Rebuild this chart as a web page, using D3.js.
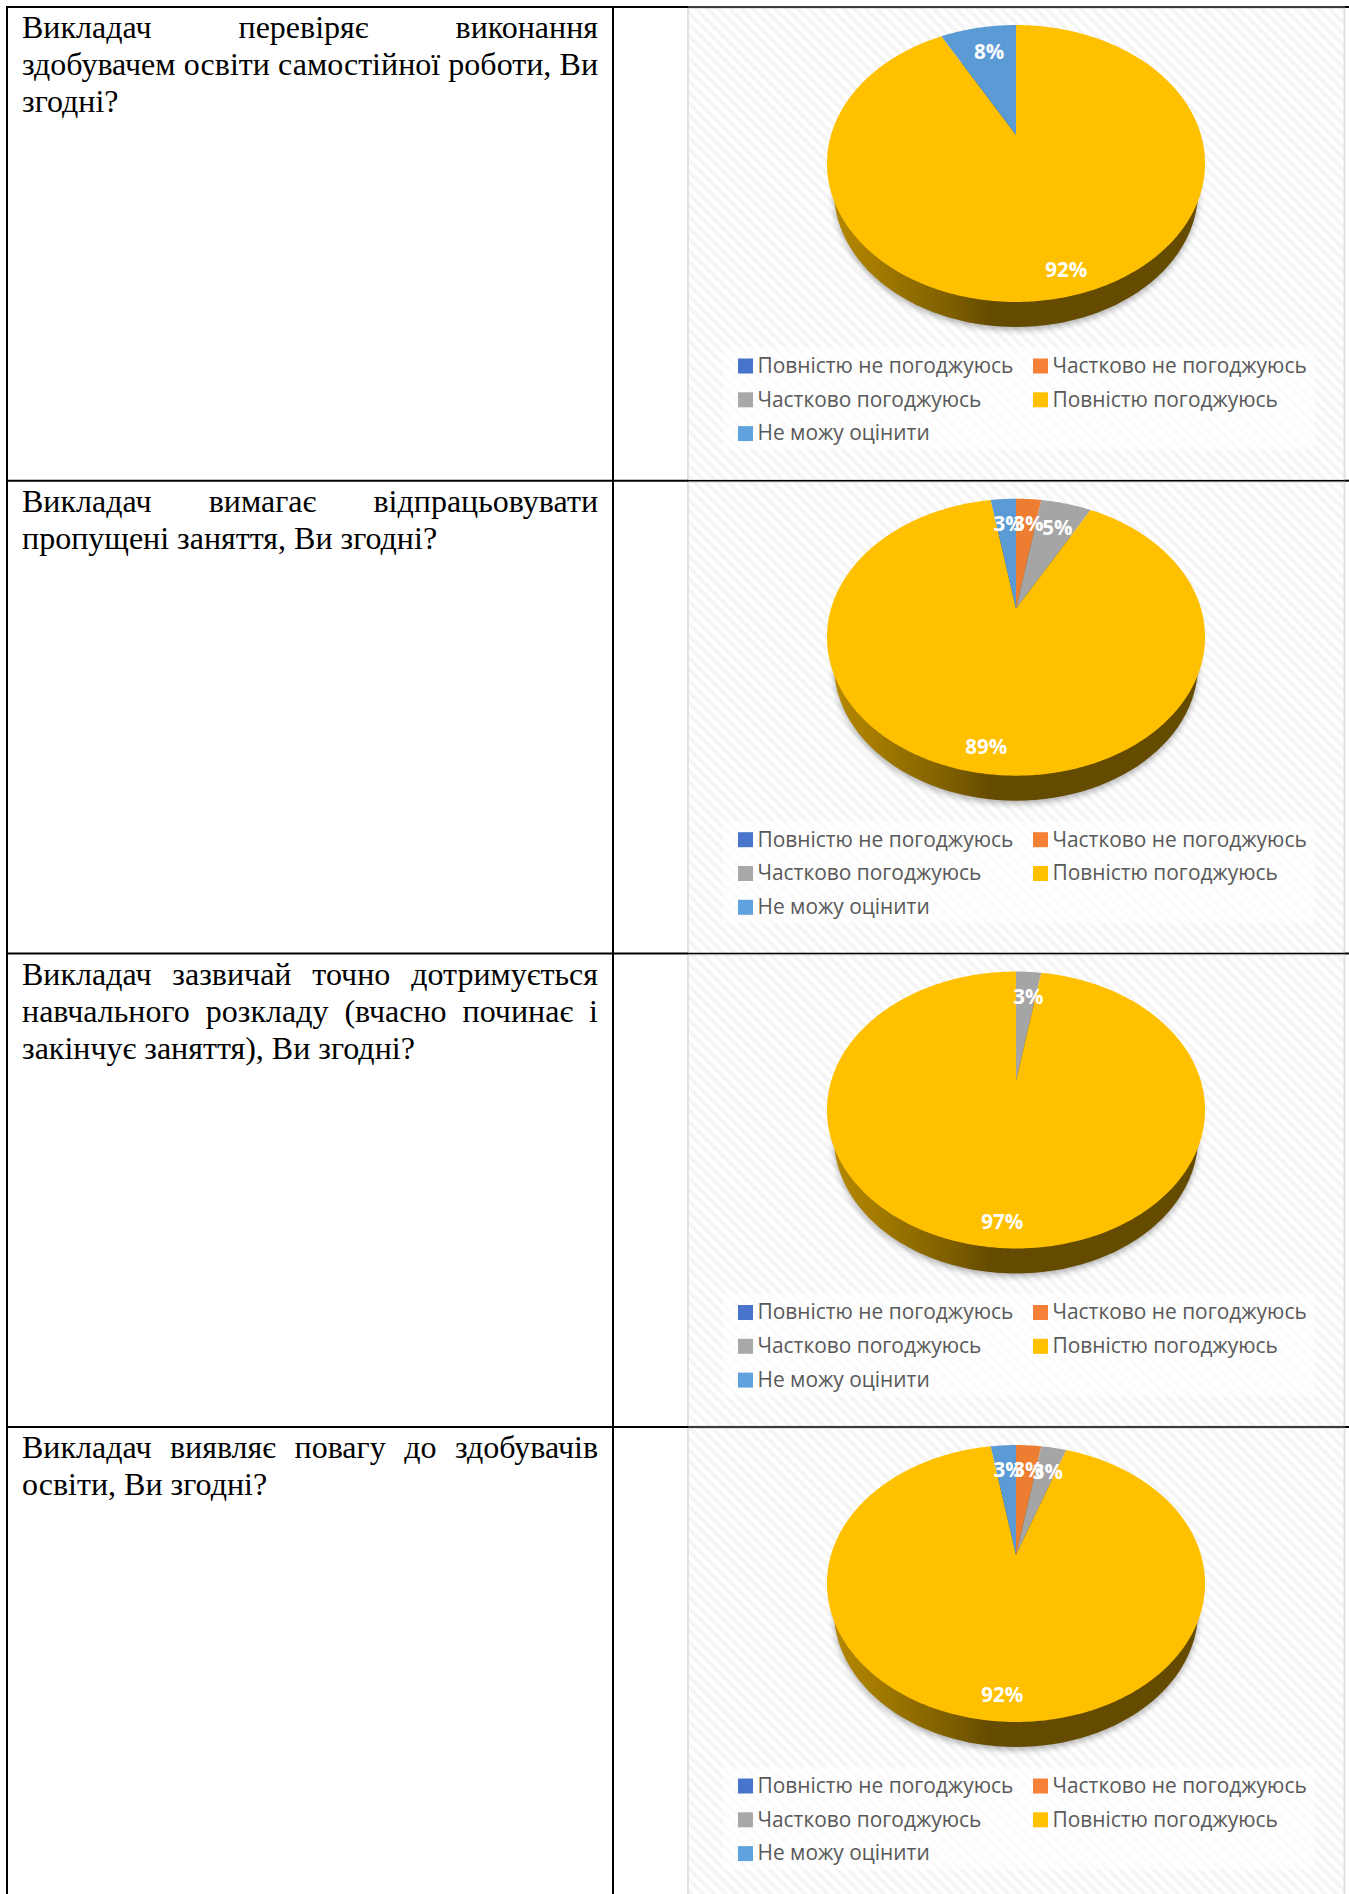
<!DOCTYPE html>
<html><head><meta charset="utf-8">
<script src="https://cdn.jsdelivr.net/npm/d3@7"></script>
<style>html,body{margin:0;padding:0;background:#fff;overflow:hidden}svg{display:block}</style>
</head><body><svg id="c" width="1349" height="1894"></svg>
<script>
const categories = ["Повністю не погоджуюсь","Частково не погоджуюсь","Частково погоджуюсь","Повністю погоджуюсь","Не можу оцінити"];
const colors = ["#4472c4","#ed7d31","#a5a5a5","#ffc000","#5b9bd5"];
const legendColors = ["#4874cb","#f58136","#a8a8a8","#ffc000","#5fa2dd"];
const answers1 = [0,0,0,35,3];
const answers2 = [0,1,2,34,1];
const answers3 = [0,0,1,37,0];
const answers4 = [0,1,1,35,1];
const questions = [
 [["Викладач перевіряє виконання",1],["здобувачем освіти самостійної роботи, Ви",1],["згодні?",0]],
 [["Викладач вимагає відпрацьовувати",1],["пропущені заняття, Ви згодні?",0]],
 [["Викладач зазвичай точно дотримується",1],["навчального розкладу (вчасно починає і",1],["закінчує заняття), Ви згодні?",0]],
 [["Викладач виявляє повагу до здобувачів",1],["освіти, Ви згодні?",0]]
];
const rowsData = [answers1,answers2,answers3,answers4];
const rowTops = [7,480.7,953.5,1427];

const W=1349,H=1894;
const svg=d3.select("#c");
const defs=svg.append("defs");
const pat=defs.append("pattern").attr("id","hatch").attr("patternUnits","userSpaceOnUse").attr("width",8).attr("height",8).attr("patternTransform","rotate(45)");
pat.append("rect").attr("width",8).attr("height",8).attr("fill","#ffffff");
pat.append("rect").attr("width",8).attr("height",4).attr("fill","#f5f5f5");
const grad=defs.append("linearGradient").attr("id","wall").attr("gradientUnits","userSpaceOnUse").attr("x1",827).attr("x2",1205).attr("y1",0).attr("y2",0);
[[0,"#b88a00"],[0.12,"#a57c00"],[0.33,"#7d5e00"],[0.43,"#654b00"],[1,"#654b00"]].forEach(s=>grad.append("stop").attr("offset",s[0]).attr("stop-color",s[1]));
defs.append("filter").attr("id","soft").attr("x","-10%").attr("y","-10%").attr("width","120%").attr("height","120%").append("feGaussianBlur").attr("stdDeviation",3);

const chartX=d3.scaleLinear().domain([0,1]).range([688,1344.5]);
const k=0.2058;
const R={x:185,y:132.6};
const cxPie=1016;

function project(a,ay,rr=1){ // a is clockwise from top
  const u=Math.sin(a)*rr,v=Math.cos(a)*rr,w=1+k*v;
  return [cxPie+R.x*u/w, ay-R.y*v/w];
}
const pie=d3.pie().sort(null).startAngle(0).endAngle(2*Math.PI);
const line=d3.line();
const fmt=d3.format(".0%");

rowsData.forEach((vals,ri)=>{
  const top=rowTops[ri];
  const g=svg.append("g");
  const px=chartX(0),pw=chartX(1)-chartX(0);
  g.append("rect").attr("x",px).attr("y",top+1).attr("width",pw).attr("height",472).attr("fill","url(#hatch)");
  g.append("rect").attr("x",px).attr("y",top+1).attr("width",pw).attr("height",472).attr("fill","none").attr("stroke","#e2e2e2").attr("stroke-width",2);
  const ay=top+128;
  const ey=top+156.5;
  // shadow + wall
  const bottom=d3.range(0,361,3).map(d=>d*Math.PI/180);
  const low=bottom.map(a=>[cxPie+182*Math.sin(a), ey+28-135.5*Math.cos(a)]);
  g.append("path").attr("d",line(low)+"Z").attr("transform","translate(0,3)").attr("fill","#000").attr("opacity",0.3).attr("filter","url(#soft)");
  g.append("path").attr("d",line(low)+"Z").attr("fill","url(#wall)");
  // slices
  const total=d3.sum(vals);
  const arcs=pie(vals);
  arcs.forEach((d,i)=>{
    if(d.value===0) return;
    const n=Math.max(2,Math.ceil((d.endAngle-d.startAngle)/0.01));
    const pts=[[cxPie,ay]].concat(d3.range(n+1).map(j=>project(d.startAngle+(d.endAngle-d.startAngle)*j/n,ay)));
    g.append("path").attr("d",line(pts)+"Z").attr("fill",colors[i]);
  });
  // labels
  arcs.forEach((d,i)=>{
    if(d.value===0) return;
    const mid=(d.startAngle+d.endAngle)/2;
    const rr=d.value/total<0.5?0.74:0.87;
    const [lx,ly]=project(mid,ay,rr);
    g.append("text").attr("x",lx+2.5).attr("y",ly).attr("dy","0.35em").attr("text-anchor","middle")
      .attr("font-family","'Open Sans',sans-serif").attr("font-weight",700).attr("font-size",20.5).attr("fill","#fff")
      .text(fmt(d.value/total));
  });
  // legend
  g.append("rect").attr("x",723).attr("y",top+340).attr("width",592).attr("height",103).attr("fill","#fff").attr("opacity",0.6);
  categories.forEach((c,i)=>{
    const col=i%2, row=Math.floor(i/2);
    const sx=col?1033:738, sy=top+351.5+row*33.8;
    g.append("rect").attr("x",sx).attr("y",sy).attr("width",15).attr("height",15).attr("fill",legendColors[i]);
    g.append("text").attr("x",sx+19.5).attr("y",sy+7).attr("dy","0.35em")
      .attr("font-family","'Open Sans',sans-serif").attr("font-size",20.9).attr("fill","#595959").text(c);
  });
  // question text
  questions[ri].forEach((ln,li)=>{
    const t=g.append("text").attr("x",22).attr("y",top+31+li*37)
      .attr("font-family","'Liberation Serif',serif").attr("font-size",32).attr("fill","#000").text(ln[0]);
    if(ln[1]){
      const len=t.node().getComputedTextLength();
      const gaps=ln[0].split(" ").length-1;
      t.attr("word-spacing",(576-len)/gaps);
    }
  });
});
// grid
const rule=(x1,y1,x2,y2,w)=>svg.append("line").attr("x1",x1).attr("y1",y1).attr("x2",x2).attr("y2",y2).attr("stroke","#000").attr("stroke-width",w);
rowTops.forEach(y=>{rule(6,y,688,y,2);rule(688,y,1344.5,y,1.4);rule(1344.5,y,W,y,2);});
rule(7,6,7,H,2);
rule(613,6,613,H,2);
</script></body></html>
